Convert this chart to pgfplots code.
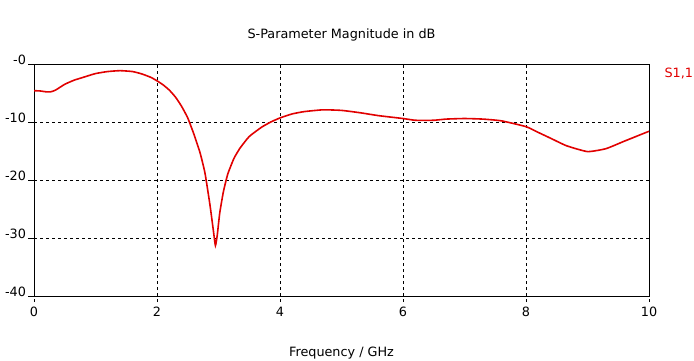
\documentclass[border=0pt]{standalone}
\usepackage{pgfplots}
\pgfplotsset{compat=1.18}
\usepackage{fontspec}
\setmainfont{DejaVu Sans}
\definecolor{sred}{RGB}{225,0,0}
\begin{document}
\begin{tikzpicture}
\useasboundingbox (-34bp,-65bp) rectangle (660bp,296bp);
\begin{axis}[
  at={(0,0)}, anchor=south west,
  scale only axis, width=615bp, height=232bp,
  xmin=0, xmax=10, ymin=-40, ymax=0,
  xtick={0,2,4,6,8,10},
  ytick={-40,-30,-20,-10,0},
  yticklabels={-40,-30,-20,-10,-0},
  /pgf/number format/assume math mode=true,
  font=\fontsize{12.8bp}{14bp}\selectfont,
  grid=major,
  major grid style={black, dash pattern=on 3bp off 3bp, line width=0.6bp},
  axis line style={black, line width=0.8bp},
  xtick pos=bottom, ytick pos=left,
  xtick style={black, line width=0.6bp, dash pattern=on 3bp off 3bp},
  ytick style={black, line width=0.6bp},
  tick align=outside,
  major tick length=6bp,
  xticklabel style={yshift=-1.5bp},
  yticklabel style={yshift=4bp, xshift=1.5bp},
  title={S-Parameter Magnitude in dB},
  title style={yshift=13bp},
  xlabel={Frequency / GHz},
  xlabel style={yshift=-23bp},
  clip=true,
]
\addplot[sred, line width=1.6bp, smooth, tension=0.3] coordinates {
(0,-4.6) (0.1,-4.65) (0.2,-4.8) (0.27,-4.8) (0.35,-4.5) (0.5,-3.5)
(0.65,-2.8) (0.8,-2.3) (1.0,-1.65) (1.2,-1.3) (1.4,-1.15) (1.6,-1.3)
(1.75,-1.7) (1.9,-2.3) (2.0,-2.9) (2.1,-3.6) (2.2,-4.5) (2.3,-5.7)
(2.4,-7.3) (2.5,-9.3) (2.6,-12.1) (2.7,-15.3) (2.78,-18.8) (2.86,-24.2)
(2.92,-29) (2.95,-31.3) (2.98,-29.5) (3.02,-25.7) (3.08,-22) (3.15,-19)
(3.25,-16.3) (3.35,-14.5) (3.5,-12.5) (3.7,-10.9) (3.85,-10.0) (4.0,-9.3)
(4.2,-8.6) (4.4,-8.2) (4.7,-7.9) (5.0,-8.0) (5.3,-8.4) (5.6,-8.9)
(6.0,-9.4) (6.2,-9.7) (6.5,-9.7) (6.7,-9.5) (7.0,-9.4) (7.3,-9.5)
(7.6,-9.8) (8.0,-10.8) (8.2,-11.8) (8.4,-12.8) (8.66,-14.1) (9.0,-15.1)
(9.3,-14.6) (9.6,-13.3) (10,-11.6)
};
\end{axis}
\node[anchor=west, text=sred, font=\fontsize{12.8bp}{14bp}\selectfont] at (627bp,223bp) {S1,1};
\end{tikzpicture}
\end{document}
